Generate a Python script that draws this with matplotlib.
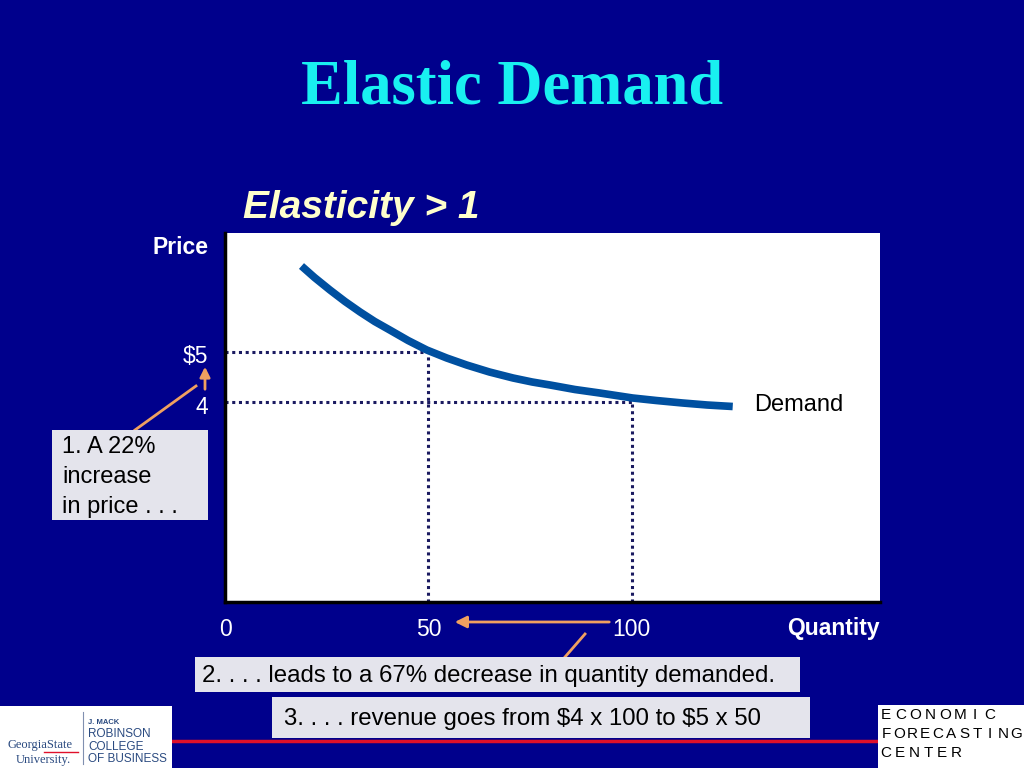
import matplotlib
matplotlib.use("Agg")
import matplotlib.pyplot as plt
from matplotlib.patches import Rectangle, FancyArrowPatch
from matplotlib.lines import Line2D

# ---- data ----
quantity = [18.8, 22.0, 25.8, 29.5, 33.2, 36.8, 40.5, 45.0, 49.6, 54.5, 59.4, 65.0,
            70.8, 75.5, 79.9, 86.0, 92.1, 100.2, 106.0, 112.5, 118.5, 124.8]
price = [6.72, 6.49, 6.24, 6.01, 5.80, 5.61, 5.44, 5.23, 5.04, 4.88, 4.74, 4.60,
         4.48, 4.40, 4.34, 4.25, 4.18, 4.08, 4.03, 3.98, 3.94, 3.91]
points_q = [50, 100]
points_p = [5, 4]
xtick_vals = [0, 50, 100]
xtick_labels = ["0", "50", "100"]
ytick_vals = [5, 4]
ytick_labels = [r"\$5", "4"]

BG = "#00008C"
W, H = 1024, 768
SANS = "Liberation Sans"

fig = plt.figure(figsize=(W / 100, H / 100), dpi=100)
fig.patch.set_facecolor(BG)

def fx(px):
    return px / W

def fy(py):
    return 1 - py / H

ax = fig.add_axes([fx(225), fy(602), fx(880) - fx(225), fy(233) - fy(602)])
ax.set_facecolor("white")
ax.set_xlim(0, 161)
ax.set_ylim(0, 7.38)
for s in ["top", "right"]:
    ax.spines[s].set_visible(False)
for s in ["left", "bottom"]:
    ax.spines[s].set_color("black")
    ax.spines[s].set_linewidth(2.5)
ax.set_xticks([])
ax.set_yticks([])

dot_kw = dict(color="#1a1a60", linestyle=(0, (1, 1.2)), linewidth=2.2, zorder=2)
for q, p in zip(points_q, points_p):
    ax.plot([0, q], [p, p], **dot_kw)
    ax.plot([q, q], [0, p], **dot_kw)

ax.plot(quantity, price, color="#0050A0", linewidth=5.5, solid_capstyle="butt",
        solid_joinstyle="round", zorder=3)
ax.text(130, 3.94, "Demand", fontsize=17, color="black", va="center", ha="left", family=SANS)

# tick labels
for v, lab in zip(xtick_vals, xtick_labels):
    fig.text(fx(225) + (fx(880) - fx(225)) * v / 161, fy(629), lab, fontsize=16.5,
             color="white", ha="center", va="center", family=SANS)
ylab_pos = {r"\$5": 356, "4": 408}
for v, lab in zip(ytick_vals, ytick_labels):
    fig.text(fx(208), fy(ylab_pos[lab]), lab, fontsize=16.5, color="white",
             ha="right", va="center", family=SANS)

# titles
fig.text(fx(512), fy(88), "Elastic Demand", fontsize=45, color="#19F0F0", ha="center",
         va="center", family="Liberation Serif", fontweight="bold")
fig.text(fx(243), fy(208), "Elasticity > 1", fontsize=28, color="#FFFFCC", ha="left",
         va="center", family=SANS, fontweight="bold", style="italic")
fig.text(fx(208), fy(247), "Price", fontsize=16.5, color="white", ha="right", va="center",
         family=SANS, fontweight="bold")
fig.text(fx(880), fy(629), "Quantity", fontsize=16.5, color="white", ha="right", va="center",
         family=SANS, fontweight="bold")

# annotation boxes
box_col = "#E4E4EC"
def rect(x0, y0, x1, y1, col, z=2):
    fig.patches.append(Rectangle((fx(x0), fy(y1)), fx(x1) - fx(x0), fy(y0) - fy(y1),
                                 transform=fig.transFigure, facecolor=col, edgecolor="none",
                                 zorder=z))

rect(52, 430, 208, 520, box_col)
for i, line in enumerate(["1. A 22%", "increase", "in price . . ."]):
    fig.text(fx(62), fy(447 + 30 * i), line, fontsize=17, color="black", va="center",
             family=SANS, zorder=3)

rect(195, 657, 800, 692, box_col)
fig.text(fx(202), fy(676), "2. . . . leads to a 67% decrease in quantity demanded.",
         fontsize=17.3, color="black", va="center", family=SANS, zorder=3)
rect(272, 697, 810, 738, box_col)
fig.text(fx(284), fy(719), r"3. . . . revenue goes from \$4 x 100 to \$5 x 50",
         fontsize=17.3, color="black", va="center", family=SANS, zorder=3)

# orange connectors / arrows
OR = "#F0A060"
fig.lines.append(Line2D([fx(135), fx(196)], [fy(430), fy(386)], transform=fig.transFigure,
                        color=OR, linewidth=2))
fig.lines.append(Line2D([fx(565), fx(585)], [fy(657), fy(634)], transform=fig.transFigure,
                        color=OR, linewidth=2))
fig.patches.append(FancyArrowPatch((fx(205), fy(392)), (fx(205), fy(364)), transform=fig.transFigure,
                                   arrowstyle="-|>,head_length=6,head_width=3", color=OR, linewidth=2,
                                   mutation_scale=1))
fig.patches.append(FancyArrowPatch((fx(612), fy(622)), (fx(452), fy(622)), transform=fig.transFigure,
                                   arrowstyle="-|>,head_length=7,head_width=3.5", color=OR, linewidth=2,
                                   mutation_scale=1))

# red rule
fig.lines.append(Line2D([fx(172), fx(880)], [fy(740.5), fy(740.5)], transform=fig.transFigure,
                        color="#E0102A", linewidth=2.5, zorder=1))

# logos
NAVY = "#2a4a80"
rect(0, 706, 172, 768, "white")
fig.text(fx(40), fy(745), "GeorgiaState", fontsize=9, color=NAVY, ha="center", va="center",
         family="Liberation Serif", zorder=3)
fig.lines.append(Line2D([fx(44), fx(78)], [fy(752), fy(752)], transform=fig.transFigure,
                        color="#E0102A", linewidth=1, zorder=3))
fig.text(fx(43), fy(760), "University.", fontsize=9, color=NAVY, ha="center", va="center",
         family="Liberation Serif", zorder=3)
fig.text(fx(88), fy(722), "J. MACK", fontsize=5.5, color=NAVY, ha="left", va="center",
         family=SANS, fontweight="bold", zorder=3)
for i, w in enumerate(["ROBINSON", "COLLEGE", "OF BUSINESS"]):
    fig.text(fx(88), fy(734 + 12.5 * i), w, fontsize=8.5, color=NAVY, ha="left", va="center",
             family=SANS, zorder=3)
fig.lines.append(Line2D([fx(83), fx(83)], [fy(712), fy(764)], transform=fig.transFigure,
                        color="#8090b0", linewidth=0.8, zorder=3))

rect(878, 705, 1024, 768, "white")
words = ["ECONOMIC", "FORECASTING", "CENTER"]
pitches = [14.8, 13.0, 14.0]
for i, (word, pitch) in enumerate(zip(words, pitches)):
    for j, ch in enumerate(word):
        fig.text(fx(886 + pitch * j), fy(715 + 19 * i), ch, fontsize=11, color="black",
                 ha="center", va="center", family=SANS, zorder=3)

fig.savefig("out.png", dpi=100, facecolor=BG)
